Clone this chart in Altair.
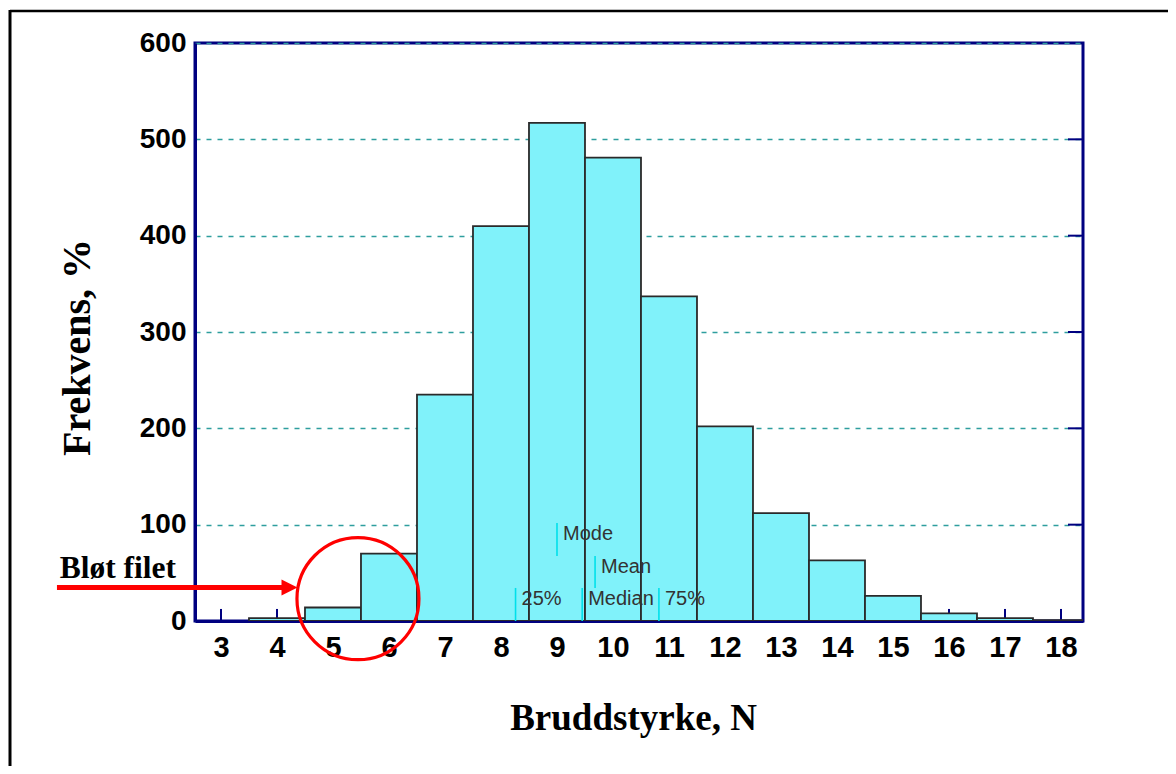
import altair as alt
import pandas as pd

# ---- data ----
strength = [3, 4, 5, 6, 7, 8, 9, 10, 11, 12, 13, 14, 15, 16, 17, 18]
frequency = [0, 3, 14, 70, 235, 410, 517, 481, 337, 202, 112, 63, 26, 8, 3, 1]
x_ticks = list(range(3, 19))
y_ticks = [0, 100, 200, 300, 400, 500, 600]
grid_levels = [100, 200, 300, 400, 500]

stat_names = ["Mode", "Mean", "25%", "Median", "75%"]
stat_x = [9.0, 9.68, 8.26, 9.45, 10.82]
stat_lo = [67.5, 34.3, 0, 0, 0]
stat_hi = [101.8, 67.5, 34.3, 34.3, 34.3]
stat_label_y = [90, 56, 23, 23, 23]

note_text = ["Bløt filet"]
note_x = [0.12]
note_y = [44.6]
circle_x = [5.446]
circle_y = [23.2]
arrow_x0 = [0.071]
arrow_x1 = [4.09]
arrow_y = [34.8]
arrow_head_x = [4.223]

NAVY = "#000080"
X_DOM = [2.536, 18.393]

bars_df = pd.DataFrame({"x": strength, "f": frequency})
ticks_df = pd.DataFrame({"x": x_ticks, "y0": [0] * len(x_ticks), "y1": [12.5] * len(x_ticks)})
rticks_df = pd.DataFrame({"y": grid_levels})
stats_df = pd.DataFrame({"name": stat_names, "x": stat_x, "lo": stat_lo, "hi": stat_hi, "ly": stat_label_y})
note_df = pd.DataFrame({"t": note_text, "x": note_x, "y": note_y})
circle_df = pd.DataFrame({"x": circle_x, "y": circle_y})
arrow_df = pd.DataFrame({"x0": arrow_x0, "x1": arrow_x1, "y": arrow_y, "hx": arrow_head_x})
one_df = pd.DataFrame({"a": [0]})

x_axis = alt.Axis(
    values=x_ticks, title="Bruddstyrke, N", grid=False, ticks=False,
    domainColor=NAVY, domainWidth=3,
    labelFont="Liberation Sans", labelFontSize=29, labelFontWeight="bold",
    labelColor="black", labelPadding=12, labelFlush=False,
    titleFont="Liberation Serif", titleFontSize=37, titleFontWeight="bold",
    titleColor="black", titleX=438, titleY=108, titleAlign="center",
    titleBaseline="alphabetic",
)
y_axis = alt.Axis(
    values=y_ticks, title="Frekvens, %", grid=True, gridColor="#2E9E9E",
    gridDash=[5, 6], gridWidth=1.5, ticks=False,
    domainColor=NAVY, domainWidth=3,
    labelFont="Liberation Sans", labelFontSize=28, labelFontWeight="bold",
    labelColor="black", labelPadding=9,
    titleFont="Liberation Serif", titleFontSize=40, titleFontWeight="bold",
    titleColor="black", titleAngle=270, titleX=-106, titleY=304,
    titleAlign="center", titleBaseline="alphabetic",
)
xs = alt.Scale(domain=X_DOM, nice=False, zero=False)
ys = alt.Scale(domain=[0, 600], nice=False)


def X(field):
    return alt.X(field, type="quantitative", scale=xs, axis=x_axis)


def Y(field):
    return alt.Y(field, type="quantitative", scale=ys, axis=y_axis)


bottom_ticks = alt.Chart(ticks_df).mark_rule(color=NAVY, strokeWidth=2).encode(
    x=X("x"), y=Y("y0"), y2="y1"
)

bars = (
    alt.Chart(bars_df)
    .transform_filter("datum.f > 0")
    .transform_calculate(lo="datum.x - 0.5", hi="datum.x + 0.5")
    .mark_bar(color="#80F2FA", stroke="#2A2A2A", strokeWidth=1.8, clip=True)
    .encode(x=X("lo"), x2="hi", y=Y("f"), y2=alt.datum(0))
)

right_ticks = alt.Chart(rticks_df).mark_rule(color=NAVY, strokeWidth=2).encode(
    y=Y("y"), x=alt.value(873), x2=alt.value(888)
)

stat_rules = alt.Chart(stats_df).mark_rule(color="#00E0EA", strokeWidth=1.6).encode(
    x=X("x"), y=Y("lo"), y2="hi"
)
stat_text = alt.Chart(stats_df).mark_text(
    align="left", baseline="middle", dx=6, font="Liberation Sans", fontSize=20, color="#333333"
).encode(x=X("x"), y=Y("ly"), text="name:N")

circle = alt.Chart(circle_df).mark_point(
    shape="circle", size=14884, filled=False, color="#FF0000", strokeWidth=3.2, opacity=1
).encode(x=X("x"), y=Y("y"))

arrow_line = alt.Chart(arrow_df).mark_rule(color="#FF0000", strokeWidth=5).encode(
    x=X("x0"), x2="x1", y=Y("y")
)
arrow_head = alt.Chart(arrow_df).mark_point(
    shape="M-1,-1L1,0L-1,1Z", size=256, filled=True, color="#FF0000", opacity=1
).encode(x=X("hx"), y=Y("y"))

note = alt.Chart(note_df).mark_text(
    align="left", baseline="alphabetic", font="Liberation Serif", fontSize=31.5,
    fontWeight="bold", color="black"
).encode(x=X("x"), y=Y("y"), text="t:N")

border_top = alt.Chart(one_df).mark_rule(color="black", strokeWidth=2.5).encode(
    x=alt.value(-185), x2=alt.value(1000), y=alt.value(-32)
)
border_left = alt.Chart(one_df).mark_rule(color="black", strokeWidth=3).encode(
    x=alt.value(-185), y=alt.value(-33), y2=alt.value(800)
)

chart = (
    alt.layer(
        bottom_ticks, bars, right_ticks, stat_rules, stat_text,
        circle, arrow_line, arrow_head, note, border_top, border_left,
    )
    .properties(
        width=888, height=578, autosize="none",
        padding={"left": 187, "top": 35, "right": 85, "bottom": 145},
        background="white",
    )
    .configure_view(stroke=NAVY, strokeWidth=3)
)

chart.save("out.html", embed_options={"renderer": "svg", "actions": False})
